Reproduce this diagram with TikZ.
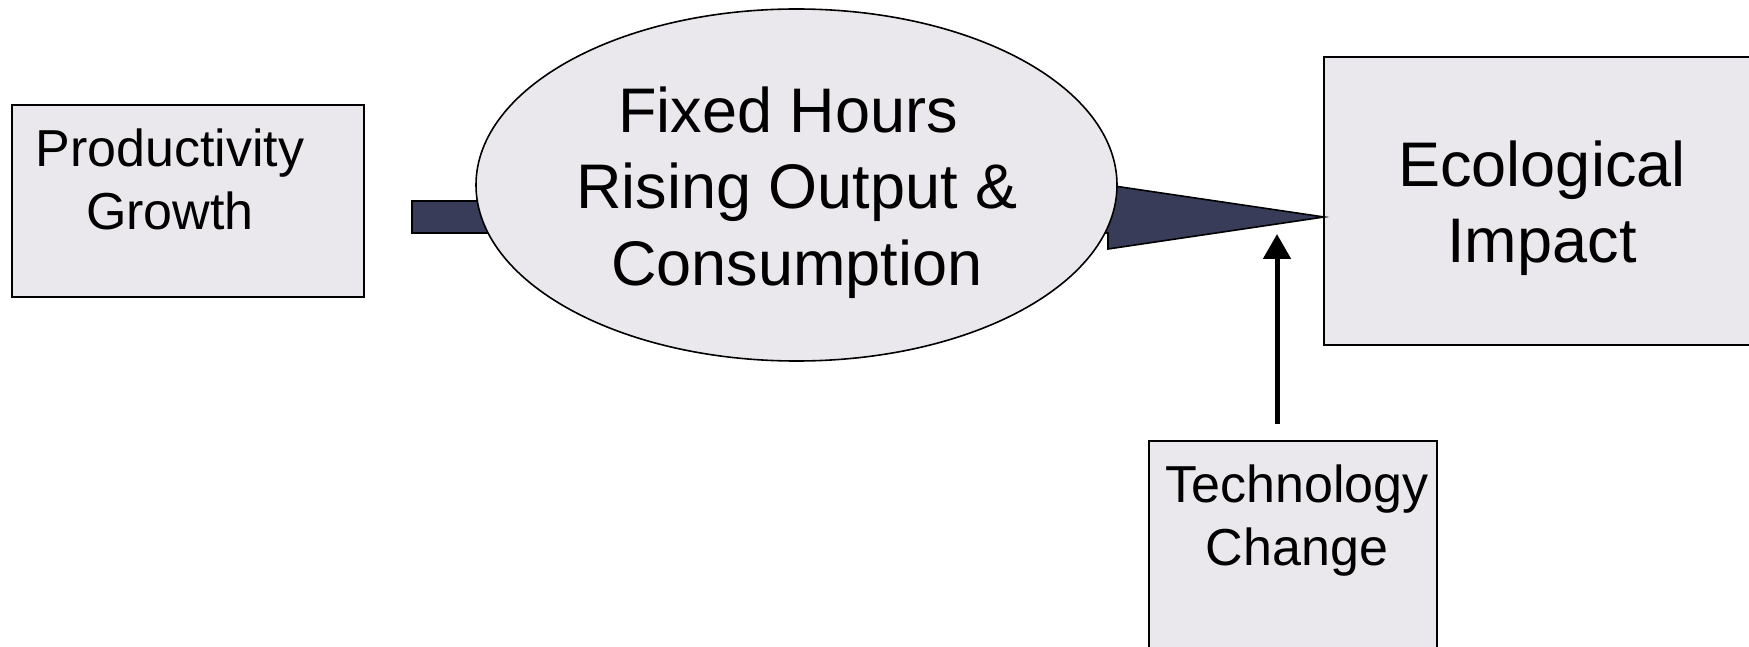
\documentclass[tikz,border=0pt]{standalone}
\usepackage{fontspec}
\setmainfont{Liberation Sans}
\usetikzlibrary{arrows.meta,shapes.geometric}
\definecolor{boxfill}{HTML}{EAE8EC}
\definecolor{darkfill}{HTML}{383C59}
\begin{document}
\begin{tikzpicture}[x=1pt,y=-1pt,
 box/.style={draw=black, line width=2pt, fill=boxfill, rectangle, inner sep=0pt},
 oval/.style={draw=black, line width=1.6pt, fill=boxfill, ellipse, inner sep=0pt},
 txtbig/.style={font=\fontsize{63}{76.5}\selectfont, align=center, inner sep=0pt, anchor=base},
 txtsmall/.style={font=\fontsize{52}{63}\selectfont, align=center, inner sep=0pt, anchor=base},
 bar/.style={fill=darkfill, draw=black, line width=1.6pt, line join=miter},
 arr/.style={draw=black, line width=5pt, -{Triangle[width=27pt,length=25pt]}}]
\useasboundingbox (0,0) rectangle (1749,647);
\clip (0,0) rectangle (1749,647);
% boxes
\node[box, minimum width=352pt, minimum height=192pt] (prod) at (188,201) {};
\node[box, minimum width=436pt, minimum height=288pt] (eco) at (1542,201) {};
\node[box, minimum width=288pt, minimum height=258pt] (tech) at (1293,570) {};
% ellipse geometry (for connectors)
\coordinate (ellc) at (796.5,185);
% connectors behind the ellipse
\draw[bar] (412,201) rectangle (520,233);
\draw[bar] (1060,178) -- ([shift={(1,16)}]eco.west) -- (1108,249) -- (1108,233) -- (1060,233) -- cycle;
% ellipse
\node[oval, minimum width=641pt, minimum height=352pt] (ell) at (ellc) {};
% arrow from technology
\coordinate (arrstart) at ([shift={(-16,-16)}]tech.north);
\coordinate (arrend) at (1277,234);
\draw[arr] (arrstart) -- (arrend);
% texts (base anchor = baseline of the last line)
\node[txtsmall] (prodtxt) at (170,230) {Productivity\\Growth};
\node[txtbig] (elltxt) at (797,285) {Fixed Hours\hspace*{0.278em}\\Rising Output \&\\Consumption};
\node[txtbig] (ecotxt) at (1542,263) {Ecological\\Impact};
\node[txtsmall] (techtxt) at (1297,565) {Technology\\Change};
\end{tikzpicture}
\end{document}
